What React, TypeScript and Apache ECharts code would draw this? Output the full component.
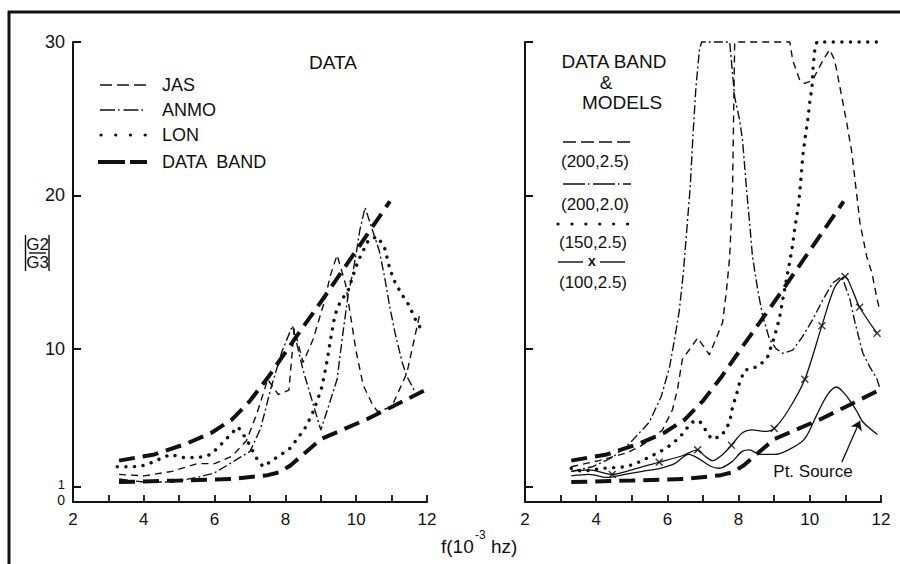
import React, { useEffect, useRef } from 'react';
import * as echarts from 'echarts';

// ---------- axis ticks ----------
const xTicks = [2, 3, 4, 5, 6, 7, 8, 9, 10, 11, 12];
const xTickLabels = [2, 4, 6, 8, 10, 12];
const yTicks = [1, 10, 20, 30];
const yTickLabels = [1, 10, 20, 30];
const yZeroLabel = [0];

// ---------- data band (both panels) ----------
const upperBand = [[3.3, 2.7], [4.3, 3.1], [5.2, 3.8], [5.9, 4.5], [6.5, 5.4], [7.0, 6.6], [7.5, 8.1], [8.1, 10.1], [9.2, 13.7], [10.0, 16.4], [10.95, 19.6]];
const lowerBand = [[3.3, 1.3], [5.0, 1.4], [6.5, 1.5], [7.5, 1.75], [7.85, 1.95], [8.15, 2.4], [9.0, 4.1], [10.3, 5.4], [11.0, 6.2], [11.95, 7.3]];

// ---------- left panel: stations ----------
const jas = [[3.3, 1.8], [4.0, 1.7], [4.8, 2.0], [5.5, 2.5], [6.0, 2.5], [6.5, 3.0], [6.9, 4.0], [7.2, 5.8], [7.5, 8.0], [7.8, 7.0], [8.1, 7.3], [8.25, 11.3], [8.5, 9.1], [8.78, 10.6], [9.12, 13.2], [9.26, 14.7], [9.46, 16.1], [9.7, 14.2], [9.85, 12.0], [10.0, 9.8], [10.2, 7.6], [10.45, 6.4], [10.6, 5.9], [11.0, 6.2], [11.43, 8.4], [11.8, 12.3]];
const anmo = [[3.3, 1.5], [4.0, 1.3], [4.8, 1.3], [5.5, 1.6], [6.0, 1.9], [6.5, 2.6], [7.0, 3.3], [7.3, 4.8], [7.6, 7.5], [7.9, 9.8], [8.2, 11.5], [8.5, 8.6], [9.0, 4.7], [9.2, 6.1], [9.46, 8.0], [9.63, 11.1], [9.77, 13.5], [9.9, 14.9], [10.0, 16.2], [10.1, 17.7], [10.25, 19.2], [10.65, 16.4], [10.8, 14.7], [10.95, 12.7], [11.1, 11.0], [11.3, 9.1], [11.43, 8.2], [11.66, 7.2]];
const lon = [[3.25, 2.3], [3.7, 2.3], [4.05, 2.4], [4.75, 3.1], [5.1, 2.9], [5.55, 2.9], [5.9, 3.1], [6.2, 3.8], [6.45, 4.4], [6.66, 4.9], [6.9, 4.1], [7.2, 2.8], [7.37, 2.3], [8.13, 3.5], [8.33, 4.1], [8.55, 4.8], [8.75, 5.7], [8.9, 6.6], [9.03, 7.5], [9.12, 8.5], [9.2, 9.5], [9.26, 10.4], [9.4, 12.2], [9.54, 13.0], [9.77, 13.8], [10.05, 15.7], [10.2, 16.4], [10.35, 17.1], [10.6, 17.3], [10.8, 16.6], [10.95, 15.2], [11.1, 14.3], [11.3, 13.5], [11.5, 12.8], [11.65, 12.0], [11.8, 11.4]];

// ---------- right panel: models ----------
const model200_25 = [[3.3, 2.3], [4.08, 2.7], [4.85, 3.2], [5.21, 3.6], [5.49, 4.0], [5.86, 4.7], [6.14, 6.0], [6.28, 7.3], [6.42, 9.3], [6.85, 10.7], [7.18, 9.6], [7.55, 11.7], [7.66, 13.8], [7.75, 16.0], [7.8, 18.6], [7.83, 20.4], [7.89, 30], [9.44, 30], [9.52, 28.8], [9.72, 27.5], [9.86, 27.3], [10.08, 27.5], [10.23, 28.2], [10.42, 29.0], [10.56, 29.5], [10.7, 28.8], [10.9, 26.4], [11.04, 24.7], [11.18, 22.8], [11.27, 21.0], [11.41, 18.2], [11.6, 16.0], [11.75, 14.9], [11.89, 13.2], [11.97, 12.5]];
const model200_20 = [[3.3, 2.0], [3.9, 2.3], [4.45, 2.9], [4.93, 3.8], [5.49, 5.2], [5.83, 6.9], [6.06, 8.8], [6.2, 10.6], [6.33, 12.4], [6.45, 15.0], [6.56, 18.2], [6.64, 20.5], [6.72, 24.0], [6.8, 27.0], [6.9, 29.5], [6.96, 30], [7.75, 30], [7.89, 26.4], [8.03, 24.9], [8.11, 23.6], [8.23, 20.2], [8.31, 18.2], [8.39, 16.0], [8.54, 13.8], [8.68, 12.1], [8.87, 10.6], [9.05, 10.0], [9.24, 9.7], [9.52, 9.9], [9.8, 10.8], [10.08, 11.9], [10.37, 13.2], [10.65, 14.3], [10.9, 14.7], [11.13, 13.2], [11.27, 11.7], [11.49, 9.7], [11.69, 8.8], [11.89, 8.0], [11.97, 7.4]];
const model150_25 = [[3.3, 2.2], [3.6, 2.0], [4.2, 2.2], [4.85, 2.3], [5.2, 2.6], [5.55, 3.0], [5.97, 3.5], [6.34, 4.2], [6.68, 5.2], [6.9, 5.3], [7.1, 4.6], [7.24, 4.1], [7.52, 4.3], [7.75, 5.2], [7.83, 6.2], [7.94, 7.0], [8.03, 7.8], [8.17, 8.6], [8.37, 8.7], [8.59, 8.9], [8.82, 9.5], [9.01, 10.8], [9.15, 12.0], [9.24, 13.2], [9.44, 15.7], [9.52, 16.8], [9.58, 17.9], [9.66, 19.0], [9.72, 20.2], [9.8, 22.5], [9.86, 23.6], [9.94, 24.9], [10.0, 26.1], [10.06, 27.0], [10.1, 28.6], [10.15, 29.7], [10.2, 30], [12.0, 30]];
const model100_25 = [[3.3, 2.0], [3.8, 2.1], [4.45, 1.8], [5.0, 2.1], [5.77, 2.6], [6.4, 3.0], [6.85, 3.4], [7.05, 3.0], [7.27, 2.7], [7.55, 3.1], [7.8, 3.7], [8.1, 4.5], [8.4, 4.7], [8.7, 4.6], [9.0, 4.8], [9.4, 6.0], [9.86, 8.0], [10.34, 11.5], [10.7, 14.0], [10.99, 14.7], [11.2, 13.8], [11.4, 12.7], [11.89, 11.0]];
const model100_25Marks = [[4.45, 1.8], [5.77, 2.6], [6.85, 3.4], [7.8, 3.7], [9.0, 4.8], [9.86, 8.0], [10.34, 11.5], [10.99, 14.7], [11.4, 12.7], [11.89, 11.0]];
const ptSource = [[3.3, 1.7], [3.8, 1.8], [4.3, 1.6], [4.8, 1.8], [5.3, 2.0], [5.8, 2.2], [6.2, 2.5], [6.6, 3.1], [6.9, 2.8], [7.2, 2.35], [7.45, 2.2], [7.8, 2.6], [8.1, 3.3], [8.3, 3.4], [8.6, 3.1], [9.0, 3.1], [9.4, 3.4], [9.85, 4.1], [10.2, 5.7], [10.5, 7.0], [10.75, 7.5], [11.0, 7.0], [11.3, 6.0], [11.5, 5.2], [11.9, 4.4]];
const ptSourceArrow = [[10.9, 2.6], [11.41, 5.3]];

const FONT = '"Liberation Sans", Arial, Helvetica, sans-serif';
const INK = '#111';

const thinDash = { color: INK, width: 1.4, type: [7, 5] };
const dashDot = { color: INK, width: 1.4, type: [9, 3, 2, 3] };
const dotted = { color: INK, width: 3.4, type: [0.1, 8.5], cap: 'round' };
const bandStyle = { color: INK, width: 4, type: [16, 8] };
const solid = { color: INK, width: 1.3, type: 'solid' };

function line(name: string, data: number[][], style: any, axis: number, extra: any = {}) {
  return {
    type: 'line', name, data, xAxisIndex: axis, yAxisIndex: axis,
    showSymbol: false, symbol: 'none', lineStyle: style, clip: false, silent: true, z: 3, ...extra,
  };
}

function mkX(i: number) {
  return {
    type: 'value', gridIndex: i, min: 2, max: 12, interval: 2,
    axisLine: { show: true, onZero: false, lineStyle: { color: INK, width: 2 } },
    axisTick: { show: true, inside: true, length: 7, customValues: xTicks, lineStyle: { color: INK, width: 1.8 } },
    axisLabel: { show: true, customValues: xTickLabels, color: INK, fontSize: 17, fontFamily: FONT, margin: 9, showMinLabel: true, showMaxLabel: true },
    splitLine: { show: false },
  };
}

function mkY(i: number, labels: boolean) {
  return {
    type: 'value', gridIndex: i, min: 0, max: 30, interval: 10,
    axisLine: { show: true, onZero: false, lineStyle: { color: INK, width: 2 } },
    axisTick: { show: true, inside: true, length: 8, customValues: yTicks, lineStyle: { color: INK, width: 2 } },
    axisLabel: {
      show: labels, customValues: yTickLabels, color: INK, fontSize: 18, fontFamily: FONT, margin: 8,
      showMinLabel: true, showMaxLabel: true,
      formatter: (v: number) => (v === 1 ? '{o|1}' : String(v)),
      rich: { o: { fontSize: 13, lineHeight: 13, fontFamily: FONT, color: INK, padding: [0, 0, 5, 0] } },
    },
    splitLine: { show: false },
  };
}

// an extra y axis on the left grid that only carries the "0" label
const yZeroAxis = {
  type: 'value', gridIndex: 0, min: 0, max: 30, interval: 10, position: 'left',
  axisLine: { show: false }, axisTick: { show: false }, splitLine: { show: false },
  axisLabel: {
    show: true, customValues: yZeroLabel, showMinLabel: true, margin: 8,
    formatter: () => '{z|0}',
    rich: { z: { fontSize: 14, lineHeight: 14, fontFamily: FONT, color: INK, padding: [0, 0, 5, 0] } },
  },
};

function txt(text: string, x: number, y: number, size: number, align = 'center', weight = 'normal') {
  return { type: 'text', x, y, silent: true, style: { text, fontSize: size, fontFamily: FONT, fontWeight: weight, fill: INK, align, verticalAlign: 'middle' } };
}
function seg(x1: number, x2: number, y: number, w: number, dash: any = null, cap = 'butt') {
  return { type: 'line', silent: true, shape: { x1, y1: y, x2, y2: y }, style: { stroke: INK, lineWidth: w, lineDash: dash, lineCap: cap } };
}
function vseg(x: number, y1: number, y2: number, w: number) {
  return { type: 'line', silent: true, shape: { x1: x, y1, x2: x, y2 }, style: { stroke: INK, lineWidth: w } };
}

export default function App() {
  const ref = useRef<HTMLDivElement>(null);
  useEffect(() => {
    if (!ref.current) return;
    const chart = echarts.init(ref.current, null, { renderer: 'svg' });
    const xMark = 'path://M0,1.3L1.3,0L5,3.7L8.7,0L10,1.3L6.3,5L10,8.7L8.7,10L5,6.3L1.3,10L0,8.7L3.7,5Z';
    const option: any = {
      animation: false,
      backgroundColor: '#fff',
      grid: [
        { left: 73, top: 42, width: 354, height: 460 },
        { left: 525, top: 42, width: 356, height: 460 },
      ],
      xAxis: [mkX(0), mkX(1)],
      yAxis: [mkY(0, true), mkY(1, false), yZeroAxis],
      series: [
        line('DATA BAND upper L', upperBand, bandStyle, 0),
        line('DATA BAND lower L', lowerBand, bandStyle, 0),
        line('JAS', jas, thinDash, 0),
        line('ANMO', anmo, dashDot, 0),
        line('LON', lon, dotted, 0),
        line('DATA BAND upper R', upperBand, bandStyle, 1),
        line('DATA BAND lower R', lowerBand, bandStyle, 1),
        line('(200,2.5)', model200_25, thinDash, 1),
        line('(200,2.0)', model200_20, dashDot, 1),
        line('(150,2.5)', model150_25, dotted, 1),
        line('(100,2.5)', model100_25, solid, 1, { smooth: 0.3 }),
        {
          type: 'scatter', name: '(100,2.5) marks', data: model100_25Marks, xAxisIndex: 1, yAxisIndex: 1,
          symbol: xMark, symbolSize: 8, itemStyle: { color: INK }, silent: true, z: 4,
        },
        line('Pt. Source', ptSource, solid, 1, {
          smooth: 0.3,
          markLine: {
            silent: true, symbol: ['none', 'arrow'], symbolSize: 9, animation: false,
            label: { show: false },
            lineStyle: { color: INK, width: 1.3, type: 'solid' },
            data: [[{ coord: ptSourceArrow[0] }, { coord: ptSourceArrow[1] }]],
          },
        }),
      ],
      graphic: [
        // page frame
        seg(8, 900, 12, 3),
        vseg(9, 11, 564, 3),
        // titles
        txt('DATA', 333, 62, 19),
        txt('DATA BAND', 614, 61, 19),
        txt('&', 606, 82, 19),
        txt('MODELS', 622, 102, 19),
        // left legend
        seg(100, 146, 85, 1.4, [12, 5]),
        seg(100, 146, 110, 1.4, [15, 3, 1.5, 4]),
        seg(101, 146, 135, 3.2, [0.1, 14.6], 'round'),
        seg(98, 147, 162, 4, [27, 5]),
        txt('JAS', 162, 85, 18, 'left'),
        txt('ANMO', 162, 110, 18, 'left'),
        txt('LON', 162, 135, 18, 'left'),
        txt('DATA  BAND', 162, 162, 18, 'left'),
        // right legend
        seg(563, 631, 142, 1.4, [13, 5]),
        txt('(200,2.5)', 595, 161, 17),
        seg(563, 631, 184, 1.4, [22, 3, 1.5, 3.5]),
        txt('(200,2.0)', 595, 204, 17),
        seg(558, 628, 224, 3.2, [0.1, 13.8], 'round'),
        txt('(150,2.5)', 593, 242, 17),
        seg(558, 583, 262, 1.4),
        seg(600, 625, 262, 1.4),
        txt('x', 592, 261, 14, 'center', 'bold'),
        txt('(100,2.5)', 593, 282, 17),
        // y axis name |G2/G3|
        vseg(25.5, 235, 271, 1.4),
        vseg(49, 235, 271, 1.4),
        txt('G2', 37.5, 244, 17),
        seg(29, 46, 253, 1.4),
        txt('G3', 37.5, 262, 17),
        // x axis name
        txt('f(10', 441, 546, 19, 'left'),
        txt('-3', 475, 535, 12, 'left'),
        txt('hz)', 491, 546, 19, 'left'),
        // annotation
        txt('Pt. Source', 813, 471, 17),
      ],
    };
    chart.setOption(option);
    return () => chart.dispose();
  }, []);
  return <div ref={ref} style={{ position: 'fixed', left: 0, top: 0, width: 900, height: 564, background: '#fff' }} />;
}
